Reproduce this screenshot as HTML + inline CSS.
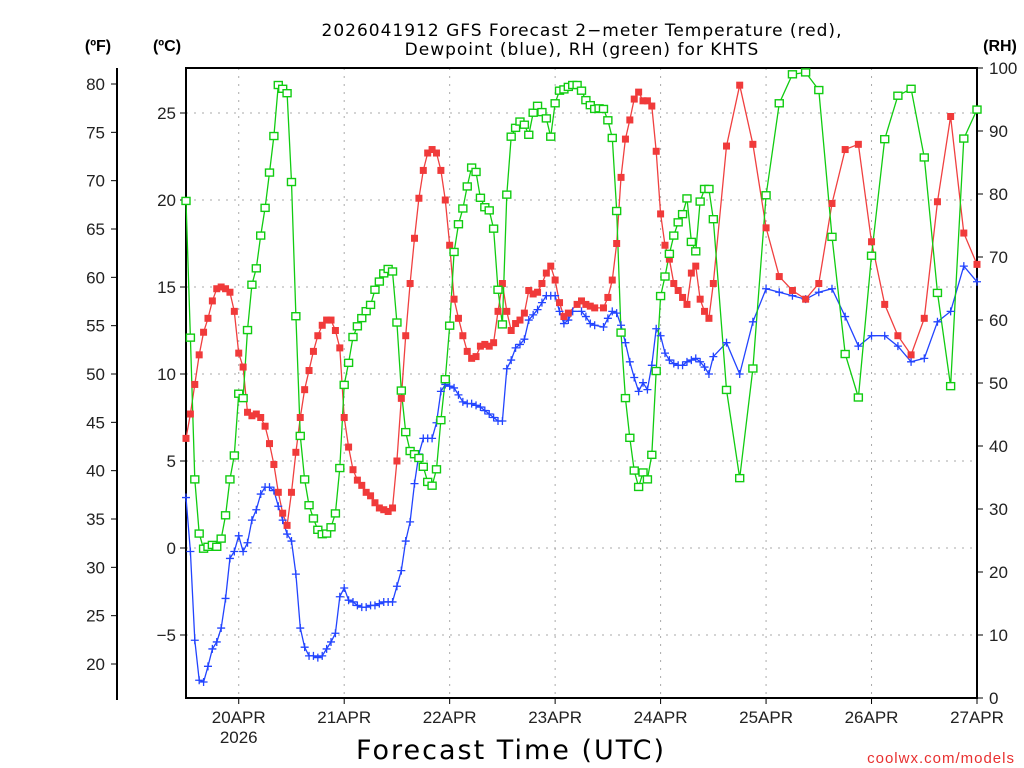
<!DOCTYPE html>
<html><head><meta charset="utf-8"><style>
html,body{margin:0;padding:0;background:#fff;}
svg{display:block;}
text{font-family:"Liberation Sans",sans-serif;}
</style></head><body>
<svg id="chart" width="1024" height="768" viewBox="0 0 1024 768" xmlns="http://www.w3.org/2000/svg">
<text x="582" y="36" text-anchor="middle" font-size="17" style="font-family:'DejaVu Sans',sans-serif;letter-spacing:1px">2026041912 GFS Forecast 2−meter Temperature (red),</text>
<text x="582" y="55" text-anchor="middle" font-size="17" style="font-family:'DejaVu Sans',sans-serif;letter-spacing:1px">Dewpoint (blue), RH (green) for KHTS</text>
<text x="98" y="51" text-anchor="middle" font-size="16" font-weight="bold">(ºF)</text>
<text x="167" y="51" text-anchor="middle" font-size="16" font-weight="bold">(ºC)</text>
<text x="1000" y="51" text-anchor="middle" font-size="16" font-weight="bold">(RH)</text>
<text x="511" y="759" text-anchor="middle" font-size="27" style="font-family:'DejaVu Sans',sans-serif;letter-spacing:2px">Forecast Time (UTC)</text>
<text x="1015" y="763" text-anchor="end" font-size="15" fill="#e83030" style="letter-spacing:1px">coolwx.com/models</text>
<g id="grid"></g><g id="axes"></g><g id="series"></g>
</svg>
<script>
const dayLabels = ["20APR","21APR","22APR","23APR","24APR","25APR","26APR","27APR"];
const cTicks = [-5,0,5,10,15,20,25];
const fTicks = [20,25,30,35,40,45,50,55,60,65,70,75,80];
const rhTicks = [0,10,20,30,40,50,60,70,80,90,100];

const tempHours = [0,1,2,3,4,5,6,7,8,9,10,11,12,13,14,15,16,17,18,19,20,21,22,23,24,25,26,27,28,29,30,31,32,33,34,35,36,37,38,39,40,41,42,43,44,45,46,47,48,49,50,51,52,53,54,55,56,57,58,59,60,61,62,63,64,65,66,67,68,69,70,71,72,73,74,75,76,77,78,79,80,81,82,83,84,85,86,87,89,90,91,92,93,95,96,97,98,99,100,101,102,103,104,105,106,107,108,109,110,111,112,113,114,115,116,117,118,119,120,123,126,129,132,135,138,141,144,147,150,153,156,159,162,165,168,171,174,177,180];
const tempC = [6.3,7.7,9.4,11.1,12.4,13.2,14.2,14.9,15.0,14.9,14.7,13.6,11.2,10.4,7.8,7.6,7.7,7.5,7.0,6.0,4.8,3.2,2.0,1.3,3.2,5.5,7.5,9.1,10.2,11.3,12.2,12.8,13.1,13.1,12.5,11.5,7.5,5.8,4.5,3.9,3.6,3.2,3.0,2.6,2.3,2.2,2.1,2.3,5.0,8.6,12.2,15.2,17.8,20.1,21.7,22.7,22.9,22.7,21.7,20.0,17.4,14.3,13.2,12.2,11.3,10.9,11.0,11.6,11.7,11.6,11.8,13.6,15.2,13.6,12.5,12.9,13.1,13.5,14.8,14.6,14.7,15.2,15.8,16.2,15.4,14.1,13.3,13.5,14.0,14.2,14.0,13.9,13.8,13.8,14.4,15.4,17.5,21.3,23.5,24.6,25.8,26.2,25.7,25.7,25.4,22.8,19.2,17.4,16.6,15.2,14.8,14.4,14.0,15.8,16.2,14.3,13.6,13.2,15.2,23.1,26.6,23.2,18.4,15.6,14.8,14.3,15.2,19.8,22.9,23.2,17.6,14.0,12.2,11.1,13.2,19.9,24.8,18.1,16.3];

const dewHours = [0,1,2,3,4,5,6,7,8,9,10,11,12,13,14,15,16,17,18,19,20,21,22,23,24,25,26,27,28,29,30,31,32,33,34,35,36,37,38,39,40,41,42,43,44,45,46,47,48,49,50,51,52,53,54,55,56,57,58,59,60,61,62,63,64,65,66,67,68,69,70,71,72,73,74,75,76,77,78,79,80,81,82,83,84,85,86,87,88,90,91,92,93,95,96,97,98,99,100,101,102,103,104,105,106,107,108,109,110,111,112,113,114,115,116,117,118,119,120,123,126,129,132,135,138,141,144,147,150,153,156,159,162,165,168,171,174,177,180];
const dewC = [2.9,-0.2,-5.3,-7.6,-7.7,-6.8,-5.8,-5.4,-4.6,-2.9,-0.6,-0.2,0.7,-0.2,0.3,1.6,2.2,3.1,3.5,3.5,3.3,2.4,1.6,0.8,0.4,-1.5,-4.6,-5.7,-6.2,-6.2,-6.3,-6.2,-5.8,-5.4,-4.9,-2.8,-2.3,-3.0,-3.1,-3.3,-3.4,-3.4,-3.3,-3.3,-3.2,-3.1,-3.1,-3.1,-2.2,-1.3,0.4,1.5,3.7,5.4,6.3,6.3,6.3,7.2,9.0,9.4,9.3,9.2,8.8,8.4,8.3,8.3,8.2,8.1,7.9,7.7,7.5,7.3,7.3,10.3,10.8,11.5,11.7,12.0,13.1,13.4,13.7,14.1,14.5,14.5,14.5,13.6,12.9,13.1,13.6,13.6,13.3,12.9,12.8,12.7,13.2,13.6,13.5,12.8,11.8,10.7,9.8,9.0,9.5,9.1,10.5,12.6,12.2,11.2,10.8,10.6,10.5,10.5,10.7,10.8,10.9,10.7,10.4,10.0,11.0,11.8,10.0,13.0,14.9,14.7,14.5,14.3,14.7,14.9,13.3,11.6,12.2,12.2,11.6,10.7,10.9,13.0,13.6,16.2,15.3];

const rhHours = [0,1,2,3,4,5,6,7,8,9,10,11,12,13,14,15,16,17,18,19,20,21,22,23,24,25,26,27,28,29,30,31,32,33,34,35,36,37,38,39,40,41,42,43,44,45,46,47,48,49,50,51,52,53,54,55,56,57,58,59,60,61,62,63,64,65,66,67,68,69,70,71,72,73,74,75,76,77,78,79,80,81,82,83,84,85,86,87,88,89,90,91,92,93,94,95,96,97,98,99,100,101,102,103,104,105,106,107,108,109,110,111,112,113,114,115,116,117,118,119,120,123,126,129,132,135,138,141,144,147,150,153,156,159,162,165,168,171,174,177,180];
const rhPct = [78.9,57.2,34.7,26.1,23.7,24.0,24.3,24.0,25.3,29.0,34.7,38.5,48.3,47.6,58.4,65.6,68.2,73.4,77.8,83.4,89.2,97.3,96.7,96.0,81.9,60.6,41.6,34.7,30.6,28.5,26.7,26.0,26.1,27.1,29.3,36.5,49.7,53.2,57.3,59.0,60.3,61.4,62.4,64.8,66.1,67.4,68.1,67.7,59.6,48.8,42.2,39.2,38.7,38.1,36.7,34.3,33.7,36.3,44.1,50.6,59.1,70.8,75.2,77.7,81.2,84.2,83.5,79.4,77.9,77.4,74.5,64.8,59.3,79.9,89.1,90.5,91.5,91.0,89.4,92.9,94.0,93.0,92.0,89.1,94.4,96.4,96.6,97.0,97.3,97.3,96.4,94.9,94.1,93.5,93.6,93.5,91.7,88.9,77.3,58.0,47.6,41.3,36.1,33.5,35.8,34.7,38.6,51.9,63.8,66.9,70.5,73.4,75.5,76.8,79.3,72.4,70.9,78.8,80.8,80.8,76.0,48.9,34.9,52.3,79.8,94.4,99.0,99.3,96.5,73.2,54.6,47.7,70.2,88.7,95.6,96.7,85.8,64.3,49.5,88.8,93.4];

const L=186,R=977,T=68,B=698;
const xH = h => L + h*(R-L)/180;
const yC = c => 548 - c*17.4;
const yF = f => yC((f-32)*5/9);
const yRH = r => B - r*(B-T)/100;
const NS="http://www.w3.org/2000/svg";
function mk(tag, attrs, parent){const e=document.createElementNS(NS,tag);for(const k in attrs)e.setAttribute(k,attrs[k]);parent.appendChild(e);return e;}
const grid=document.getElementById('grid'), axes=document.getElementById('axes'), series=document.getElementById('series');

cTicks.forEach(c=>{
  const y=yC(c);
  const g=mk('line',{x1:L,x2:R,y1:y,y2:y,stroke:'#aaa','stroke-width':1,'stroke-dasharray':'2,6'},grid);
  
  
  mk('line',{x1:L-6,x2:L,y1:y,y2:y,stroke:'#000','stroke-width':1},axes);
  const t=mk('text',{x:L-10,y:y+6,'text-anchor':'end','font-size':17,fill:'#222'},axes);
  t.textContent = c<0 ? '−'+Math.abs(c) : String(c);
  
  
});
dayLabels.forEach((d,i)=>{
  const x=xH(12+24*i);
  if(i<dayLabels.length-1){
    const g=mk('line',{x1:x,x2:x,y1:T,y2:B,stroke:'#aaa','stroke-width':1,'stroke-dasharray':'2,6'},grid);
    
    
  }
  mk('line',{x1:x,x2:x,y1:B,y2:B+6,stroke:'#000','stroke-width':1},axes);
  const t=mk('text',{x:x,y:723,'text-anchor':'middle','font-size':17,fill:'#222'},axes);
  t.textContent=d;
  
  
});
const yr=mk('text',{x:xH(12),y:743,'text-anchor':'middle','font-size':17,fill:'#222'},axes);
yr.textContent='2026';



const fa=mk('line',{x1:117,x2:117,y1:T,y2:B+2,stroke:'#000','stroke-width':2},axes);


fTicks.forEach(f=>{
  const y=yF(f);
  mk('line',{x1:111,x2:117,y1:y,y2:y,stroke:'#000','stroke-width':1},axes);
  const t=mk('text',{x:105,y:y+6,'text-anchor':'end','font-size':17,fill:'#222'},axes);
  t.textContent=String(f);
  
  
});
rhTicks.forEach(r=>{
  const y=yRH(r);
  mk('line',{x1:R,x2:R+6,y1:y,y2:y,stroke:'#000','stroke-width':1},axes);
  const t=mk('text',{x:989,y:y+6,'font-size':17,fill:'#222'},axes);
  t.textContent=String(r);
  
  
});
const fr=mk('rect',{x:L,y:T,width:R-L,height:B-T,fill:'none',stroke:'#000','stroke-width':2},axes);



function line(hours, vals, yf, color, name){
  const pts=hours.map((h,i)=>xH(h).toFixed(1)+','+yf(vals[i]).toFixed(1)).join(' ');
  const p=mk('polyline',{points:pts,fill:'none',stroke:color,'stroke-width':1.3},series);
  
  
}
line(dewHours,dewC,yC,'#2244ff','dewpoint-line');
line(tempHours,tempC,yC,'#f04040','temperature-line');
line(rhHours,rhPct,yRH,'#11cc11','rh-line');
dewHours.forEach((h,i)=>{
  const x=xH(h),y=yC(dewC[i]);
  const m=mk('path',{d:`M${x-4},${y}H${x+4}M${x},${y-4}V${y+4}`,stroke:'#2244ff','stroke-width':1.3},series);
  
  
});
tempHours.forEach((h,i)=>{
  const x=xH(h),y=yC(tempC[i]);
  const m=mk('rect',{x:x-3.5,y:y-3.5,width:7,height:7,fill:'#f03a3a'},series);
  
  
});
rhHours.forEach((h,i)=>{
  const x=xH(h),y=yRH(rhPct[i]);
  const m=mk('rect',{x:x-4,y:y-3.5,width:8,height:7,fill:'#fff',stroke:'#11cc11','stroke-width':1.4},series);
  
  
});
</script>
</body></html>
